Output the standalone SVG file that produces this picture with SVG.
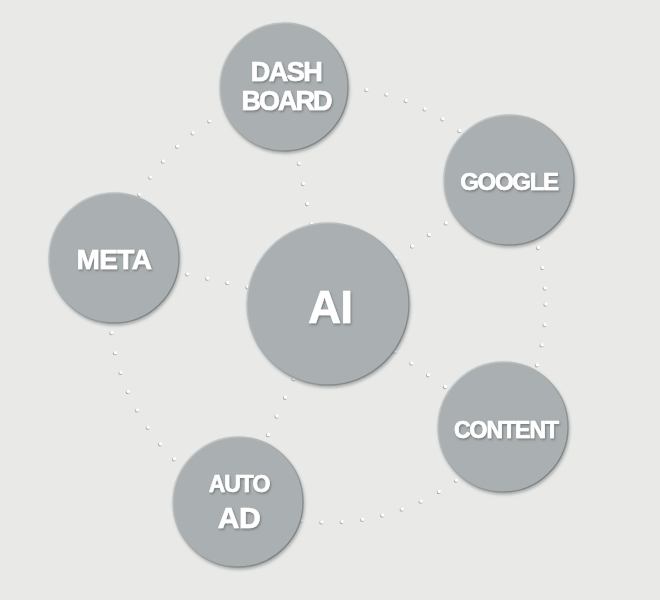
<svg xmlns="http://www.w3.org/2000/svg" width="660" height="600" viewBox="0 0 660 600">
<defs>
<linearGradient id="rim" x1="0" y1="0" x2="1" y2="1">
<stop offset="0" stop-color="#d2d5d5"/>
<stop offset="0.5" stop-color="#a3a8a9"/>
<stop offset="1" stop-color="#6f7475"/>
</linearGradient>
<filter id="nodeShadow" x="-20%" y="-20%" width="140%" height="140%">
<feDropShadow dx="1" dy="2" stdDeviation="1.6" flood-color="#5c6061" flood-opacity="0.45"/>
</filter>
<filter id="textShadow" x="-20%" y="-30%" width="140%" height="160%">
<feDropShadow dx="1" dy="1.5" stdDeviation="0.9" flood-color="#5f6465" flood-opacity="0.7"/>
</filter>
<filter id="dotShadow" x="-5%" y="-5%" width="110%" height="110%">
<feDropShadow dx="-0.6" dy="0.7" stdDeviation="0.35" flood-color="#7d7f7f" flood-opacity="0.9"/>
</filter>
</defs>
<style>
.dots{fill:none;stroke:#ffffff;stroke-width:3.4;stroke-linecap:round;stroke-dasharray:0 20.5}
.node{fill:#aab0b1;stroke:url(#rim);stroke-width:1.4}
.lbl{font-family:"Liberation Sans",Arial,Helvetica,sans-serif;font-weight:bold;fill:#ffffff;stroke:#ffffff;stroke-width:0.7;stroke-linejoin:round;text-anchor:middle}
</style>
<rect width="660" height="600" fill="#e9eae8"/>
<g id="connectors" filter="url(#dotShadow)">
<circle class="dots" cx="328" cy="304" r="218"/>
<line class="dots" x1="328" y1="304" x2="284" y2="87"/>
<line class="dots" x1="328" y1="304" x2="509" y2="180"/>
<line class="dots" x1="328" y1="304" x2="503" y2="427"/>
<line class="dots" x1="328" y1="304" x2="238" y2="502"/>
<line class="dots" x1="328" y1="304" x2="114" y2="258"/>
</g>
<g id="node-ai" filter="url(#nodeShadow)">
<circle class="node" cx="328" cy="304" r="81"/>
<text class="lbl" x="330" y="323" font-size="46" letter-spacing="-1" filter="url(#textShadow)">AI</text>
</g>
<g id="node-dashboard" filter="url(#nodeShadow)">
<circle class="node" cx="284" cy="87" r="64"/>
<text class="lbl" x="286" y="81" font-size="27" letter-spacing="-1.5" filter="url(#textShadow)">DASH</text>
<text class="lbl" x="286" y="110" font-size="27" letter-spacing="-2" filter="url(#textShadow)">BOARD</text>
</g>
<g id="node-google" filter="url(#nodeShadow)">
<circle class="node" cx="509" cy="180" r="65"/>
<text class="lbl" x="509" y="190" font-size="24" letter-spacing="-1.3" filter="url(#textShadow)">GOOGLE</text>
</g>
<g id="node-meta" filter="url(#nodeShadow)">
<circle class="node" cx="114" cy="258" r="65"/>
<text class="lbl" x="114" y="269" font-size="28" letter-spacing="-0.6" filter="url(#textShadow)">META</text>
</g>
<g id="node-content" filter="url(#nodeShadow)">
<circle class="node" cx="503" cy="427" r="65"/>
<text class="lbl" x="506" y="438" font-size="23" letter-spacing="-1" filter="url(#textShadow)">CONTENT</text>
</g>
<g id="node-autoad" filter="url(#nodeShadow)">
<circle class="node" cx="238" cy="502" r="65"/>
<text class="lbl" x="239" y="492" font-size="23" letter-spacing="-1" filter="url(#textShadow)">AUTO</text>
<text class="lbl" x="239" y="528" font-size="30" letter-spacing="-0.5" filter="url(#textShadow)">AD</text>
</g>
</svg>
